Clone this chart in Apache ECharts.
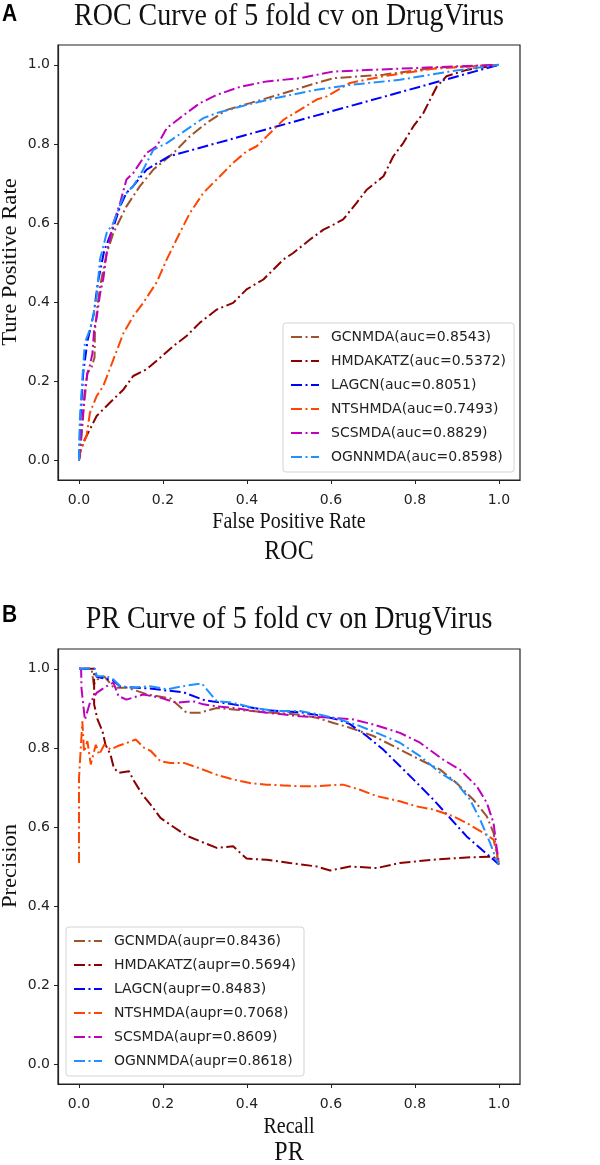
<!DOCTYPE html>
<html>
<head>
<meta charset="utf-8">
<script src="https://cdn.jsdelivr.net/npm/echarts@6.0.0/dist/echarts.min.js"></script>
<style>
  html, body { margin: 0; padding: 0; background: #fff; }
  #chart { width: 600px; height: 1165px; }
</style>
</head>
<body>
<div id="chart"></div>
<script>
// method names and scores shown in the legends
var methods = ['GCNMDA', 'HMDAKATZ', 'LAGCN', 'NTSHMDA', 'SCSMDA', 'OGNNMDA'];
var aucValues = ['0.8543', '0.5372', '0.8051', '0.7493', '0.8829', '0.8598'];
var auprValues = ['0.8436', '0.5694', '0.8483', '0.7068', '0.8609', '0.8618'];
var colors = ['#A0522D', '#8B0000', '#0000FF', '#FF4500', '#BF00BF', '#1E90FF'];
var tickValues = [0, 0.2, 0.4, 0.6, 0.8, 1.0];

// ROC curves, [fpr, tpr]
var rocGCNMDA = [[0,0],[0.006,0.06],[0.012,0.14],[0.02,0.22],[0.03,0.235],[0.037,0.26],[0.038,0.33],[0.045,0.4],[0.052,0.45],[0.066,0.524],[0.082,0.575],[0.113,0.642],[0.145,0.693],[0.177,0.735],[0.225,0.777],[0.264,0.819],[0.304,0.853],[0.352,0.886],[0.407,0.903],[0.487,0.928],[0.566,0.954],[0.606,0.966],[0.725,0.975],[0.844,0.992],[1,1]];
var rocHMDAKATZ = [[0,0],[0.003,0.02],[0.01,0.045],[0.026,0.078],[0.042,0.112],[0.074,0.146],[0.106,0.179],[0.129,0.213],[0.161,0.23],[0.193,0.259],[0.225,0.289],[0.256,0.314],[0.288,0.348],[0.328,0.381],[0.367,0.398],[0.399,0.432],[0.439,0.457],[0.487,0.508],[0.51,0.524],[0.55,0.558],[0.582,0.583],[0.606,0.596],[0.629,0.609],[0.661,0.651],[0.685,0.684],[0.725,0.718],[0.748,0.768],[0.772,0.802],[0.796,0.844],[0.82,0.878],[0.836,0.912],[0.852,0.945],[0.875,0.971],[0.923,0.987],[1,1]];
var rocLAGCN = [[0,0],[0.003,0.1],[0.01,0.22],[0.02,0.3],[0.035,0.37],[0.045,0.45],[0.06,0.53],[0.082,0.59],[0.098,0.642],[0.113,0.676],[0.129,0.693],[0.161,0.735],[0.213,0.768],[1,1]];
var rocNTSHMDA = [[0,0],[0.002,0.019],[0.01,0.04],[0.018,0.061],[0.026,0.12],[0.042,0.162],[0.058,0.188],[0.082,0.255],[0.106,0.322],[0.129,0.364],[0.153,0.398],[0.185,0.45],[0.209,0.508],[0.24,0.575],[0.264,0.625],[0.296,0.676],[0.328,0.71],[0.367,0.752],[0.399,0.781],[0.423,0.794],[0.447,0.819],[0.487,0.861],[0.526,0.886],[0.566,0.912],[0.59,0.92],[0.645,0.954],[0.725,0.971],[0.844,0.99],[1,1]];
var rocSCSMDA = [[0,0],[0.004,0.05],[0.008,0.1],[0.014,0.18],[0.02,0.22],[0.026,0.24],[0.032,0.27],[0.036,0.33],[0.042,0.36],[0.05,0.42],[0.058,0.46],[0.066,0.524],[0.082,0.6],[0.098,0.651],[0.113,0.71],[0.129,0.726],[0.161,0.777],[0.185,0.794],[0.209,0.84],[0.256,0.878],[0.288,0.903],[0.328,0.924],[0.383,0.944],[0.447,0.958],[0.526,0.966],[0.606,0.983],[0.76,0.99],[0.9,0.996],[1,1]];
var rocOGNNMDA = [[0,0],[0.002,0.104],[0.006,0.17],[0.01,0.238],[0.014,0.297],[0.026,0.331],[0.034,0.364],[0.042,0.415],[0.05,0.508],[0.066,0.575],[0.082,0.6],[0.106,0.668],[0.129,0.693],[0.153,0.735],[0.177,0.785],[0.209,0.802],[0.256,0.836],[0.296,0.865],[0.328,0.878],[0.415,0.903],[0.487,0.92],[0.566,0.937],[0.645,0.949],[0.764,0.962],[0.883,0.983],[1,1]];

// PR curves, [recall, precision]
var prGCNMDA = [[0,1],[0.03,1],[0.035,0.96],[0.044,0.973],[0.06,0.981],[0.083,0.952],[0.115,0.952],[0.163,0.935],[0.218,0.925],[0.256,0.889],[0.288,0.889],[0.328,0.901],[0.367,0.897],[0.447,0.89],[0.526,0.884],[0.566,0.876],[0.606,0.863],[0.645,0.851],[0.701,0.83],[0.764,0.796],[0.812,0.77],[0.86,0.745],[0.899,0.711],[0.939,0.669],[0.971,0.627],[0.987,0.585],[1,0.505]];
var prHMDAKATZ = [[0.012,1],[0.036,1],[0.036,0.91],[0.044,0.872],[0.056,0.842],[0.063,0.808],[0.075,0.783],[0.083,0.749],[0.095,0.737],[0.119,0.741],[0.131,0.716],[0.151,0.682],[0.171,0.656],[0.194,0.623],[0.218,0.605],[0.256,0.578],[0.288,0.564],[0.328,0.547],[0.367,0.551],[0.399,0.52],[0.447,0.517],[0.502,0.509],[0.566,0.5],[0.598,0.49],[0.645,0.5],[0.709,0.496],[0.764,0.509],[0.844,0.517],[0.923,0.523],[0.987,0.525],[1,0.505]];
var prLAGCN = [[0,1],[0.038,1],[0.042,0.98],[0.082,0.97],[0.098,0.955],[0.169,0.95],[0.25,0.94],[0.3,0.92],[0.367,0.91],[0.447,0.895],[0.526,0.89],[0.574,0.882],[0.621,0.87],[0.645,0.86],[0.685,0.83],[0.725,0.795],[0.764,0.754],[0.804,0.712],[0.844,0.669],[0.884,0.622],[0.923,0.576],[0.962,0.54],[1,0.505]];
var prNTSHMDA = [[0,0.509],[0,0.724],[0.008,0.867],[0.012,0.79],[0.02,0.817],[0.028,0.758],[0.04,0.808],[0.048,0.783],[0.06,0.808],[0.075,0.796],[0.091,0.804],[0.115,0.813],[0.135,0.821],[0.155,0.8],[0.171,0.792],[0.194,0.766],[0.218,0.762],[0.25,0.762],[0.288,0.748],[0.328,0.732],[0.367,0.72],[0.407,0.711],[0.447,0.707],[0.487,0.705],[0.526,0.703],[0.566,0.703],[0.606,0.706],[0.629,0.707],[0.669,0.694],[0.709,0.678],[0.764,0.665],[0.804,0.652],[0.844,0.644],[0.891,0.627],[0.923,0.61],[0.963,0.585],[0.987,0.568],[1,0.505]];
var prSCSMDA = [[0,1],[0.005,1],[0.006,0.95],[0.014,0.871],[0.026,0.914],[0.042,0.939],[0.066,0.956],[0.082,0.965],[0.094,0.931],[0.113,0.922],[0.153,0.935],[0.193,0.927],[0.233,0.914],[0.272,0.918],[0.296,0.91],[0.328,0.905],[0.367,0.901],[0.447,0.889],[0.526,0.88],[0.606,0.876],[0.653,0.872],[0.701,0.859],[0.764,0.838],[0.812,0.813],[0.867,0.77],[0.907,0.745],[0.947,0.703],[0.971,0.661],[0.987,0.61],[0.994,0.551],[1,0.509]];
var prOGNNMDA = [[0,1],[0.038,1],[0.042,0.981],[0.066,0.981],[0.082,0.973],[0.098,0.956],[0.129,0.952],[0.169,0.956],[0.209,0.948],[0.248,0.956],[0.292,0.963],[0.328,0.918],[0.367,0.914],[0.415,0.901],[0.471,0.893],[0.526,0.893],[0.574,0.884],[0.621,0.872],[0.669,0.855],[0.709,0.838],[0.764,0.813],[0.812,0.779],[0.86,0.737],[0.899,0.711],[0.931,0.669],[0.955,0.619],[0.979,0.559],[0.994,0.517],[1,0.505]];

var rocData = [rocGCNMDA, rocHMDAKATZ, rocLAGCN, rocNTSHMDA, rocSCSMDA, rocOGNNMDA];
var prData = [prGCNMDA, prHMDAKATZ, prLAGCN, prNTSHMDA, prSCSMDA, prOGNNMDA];

var serif = 'Liberation Serif';
var sans = 'DejaVu Sans';
var ink = '#222';
var stretch = 1.13; // the reference picture is a little taller than wide

function valueAxis(gridIndex, isX) {
  return {
    type: 'value', gridIndex: gridIndex, min: -0.05, max: 1.05,
    position: isX ? 'bottom' : 'left',
    splitLine: { show: false },
    axisLine: { show: true, onZero: false, lineStyle: { color: ink, width: 1.2 } },
    axisTick: { show: true, length: 4, customValues: tickValues, lineStyle: { color: ink, width: 1 } },
    axisLabel: {
      customValues: tickValues, margin: isX ? 13 : 8,
      fontFamily: sans, fontSize: 14, color: ink,
      formatter: function (v) { return v.toFixed(1); }
    }
  };
}

var rocNames = methods.map(function (m, i) { return m + '(auc=' + aucValues[i] + ')'; });
var prNames = methods.map(function (m, i) { return m + '(aupr=' + auprValues[i] + ')'; });

var series = [];
function addSeries(names, data, idx) {
  names.forEach(function (name, i) {
    series.push({
      name: name, type: 'line', xAxisIndex: idx, yAxisIndex: idx,
      data: data[i], symbol: 'none', showSymbol: false, smooth: false,
      lineStyle: { color: colors[i], width: 2, type: [11, 3.5, 2, 3.5], cap: 'butt' },
      itemStyle: { color: colors[i] },
      emphasis: { disabled: true }
    });
  });
}
addSeries(rocNames, rocData, 0);
addSeries(prNames, prData, 1);

function legendBox(names, left, top) {
  return {
    data: names, orient: 'vertical', left: left, top: top,
    itemWidth: 28, itemHeight: 14, itemGap: 10,
    padding: [7, 8, 8, 7],
    backgroundColor: 'rgba(255,255,255,0.8)',
    borderColor: '#d4d4d4', borderWidth: 1, borderRadius: 3,
    selectedMode: false,
    itemStyle: { opacity: 0, borderWidth: 0 },
    textStyle: { fontFamily: sans, fontSize: 14, color: ink, lineHeight: 14, padding: [0, 0, 0, 7] }
  };
}

function label(text, x, y, size, opts) {
  opts = opts || {};
  var rotated = !!opts.rotation;
  return {
    type: 'text', x: x, y: y, rotation: opts.rotation || 0, silent: true,
    scaleX: rotated ? stretch : 1, scaleY: rotated ? 1 : stretch,
    style: {
      text: text, x: 0, y: 0, textAlign: opts.align || 'center', textVerticalAlign: 'middle',
      font: (opts.bold ? 'bold ' : '') + size + 'px "' + (opts.family || serif) + '"', fill: opts.fill || '#111'
    }
  };
}

var chart = echarts.init(document.getElementById('chart'));
chart.setOption({
  animation: false,
  backgroundColor: '#fff',
  grid: [
    { left: 58, top: 45, width: 462, height: 435, show: true, borderColor: ink, borderWidth: 1.2, backgroundColor: 'transparent' },
    { left: 58, top: 649, width: 462, height: 435, show: true, borderColor: ink, borderWidth: 1.2, backgroundColor: 'transparent' }
  ],
  xAxis: [valueAxis(0, true), valueAxis(1, true)],
  yAxis: [valueAxis(0, false), valueAxis(1, false)],
  legend: [legendBox(rocNames, 283, 323), legendBox(prNames, 66, 927)],
  series: series,
  graphic: [
    label('A', 2, 14, 21, { bold: true, family: 'Liberation Sans', align: 'left', fill: '#000' }),
    label('ROC Curve of 5 fold cv on DrugVirus', 289, 17, 28),
    label('Ture Positive Rate', 11, 262, 20, { rotation: Math.PI / 2 }),
    label('False Positive Rate', 289, 522, 20),
    label('ROC', 289, 552, 24),
    label('B', 2, 615, 21, { bold: true, family: 'Liberation Sans', align: 'left', fill: '#000' }),
    label('PR Curve of 5 fold cv on DrugVirus', 289, 620, 28),
    label('Precision', 11, 866, 20, { rotation: Math.PI / 2 }),
    label('Recall', 289, 1127, 20),
    label('PR', 289, 1153, 24)
  ]
});
</script>
</body>
</html>
